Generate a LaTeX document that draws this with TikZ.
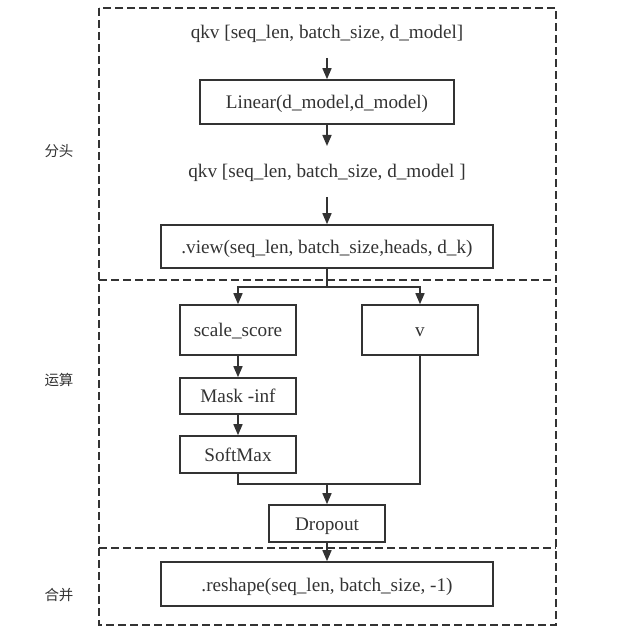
\documentclass[tikz,border=0pt]{standalone}
\usepackage{fontspec}
\setmainfont{Liberation Serif}
\newfontfamily\cjk{Noto Sans CJK SC}
\usetikzlibrary{arrows.meta,positioning}
\definecolor{ink}{HTML}{333333}
\tikzset{
  box/.style={draw=ink,line width=1.6pt,text=ink,font=\fontsize{19.2}{22}\selectfont,inner sep=0pt,text height=14pt,text depth=0pt},
  plain/.style={text=ink,font=\fontsize{19.2}{22}\selectfont,inner sep=0pt,text height=14pt,text depth=0pt},
  zone/.style={draw=ink,line width=1.6pt,dash pattern=on 8pt off 4pt},
  zlabel/.style={text=ink,font=\cjk\fontsize{14.5}{16}\selectfont},
  conn/.style={draw=ink,line width=1.6pt},
  arr/.style={conn,-{Triangle[length=11pt,width=9pt]}}
}
\begin{document}
\begin{tikzpicture}[x=1pt,y=-1pt]
\useasboundingbox (0,0) rectangle (638,636);
% zones
\draw[zone] (99,8) rectangle (556,625);
\draw[zone] (99,280) -- (556,280);
\draw[zone] (99,548) -- (556,548);
\node[zlabel] (l1) at (59,151) {分头};
\node[zlabel] (l2) at (59,380) {运算};
\node[zlabel] (l3) at (59,595) {合并};
% nodes
\node[plain] (in) at (327,31.5) {qkv [seq\_len, batch\_size, d\_model]};
\node[box,minimum width=254pt,minimum height=44pt] (lin) at (327,102) {Linear(d\_model,d\_model)};
\node[plain] (mid) at (327,170.5) {qkv [seq\_len, batch\_size, d\_model ]};
\node[box,minimum width=332pt,minimum height=43pt] (view) at (327,246.5) {.view(seq\_len, batch\_size,heads, d\_k)};
\node[box,minimum width=116pt,minimum height=50pt] (sc) at (238,330) {scale\_score};
\node[box,minimum width=116pt,minimum height=50pt] (v) at (420,330) {v};
\node[box,minimum width=116pt,minimum height=36pt] (mask) at (238,396) {Mask -inf};
\node[box,minimum width=116pt,minimum height=37pt] (sm) at (238,454.5) {SoftMax};
\node[box,minimum width=116pt,minimum height=37pt] (drop) at (327,523.5) {Dropout};
\node[box,minimum width=332pt,minimum height=44pt] (resh) at (327,584) {.reshape(seq\_len, batch\_size, -1)};
\coordinate (split) at (327,287);
\coordinate (join) at (327,484);
% connectors
\draw[arr] (327,58) -- (lin.north);
\draw[arr] (lin.south) -- (327,146);
\draw[arr] (327,197) -- (view.north);
\draw[conn] (view.south) -- (split);
\draw[arr] (split) -| (sc.north);
\draw[arr] (split) -| (v.north);
\draw[arr] (sc) -- (mask);
\draw[arr] (mask) -- (sm);
\draw[conn] (sm.south) |- (join);
\draw[conn] (v.south) |- (join);
\draw[arr] (join) -- (drop.north);
\draw[arr] (drop.south) -- (resh.north);
\end{tikzpicture}
\end{document}
